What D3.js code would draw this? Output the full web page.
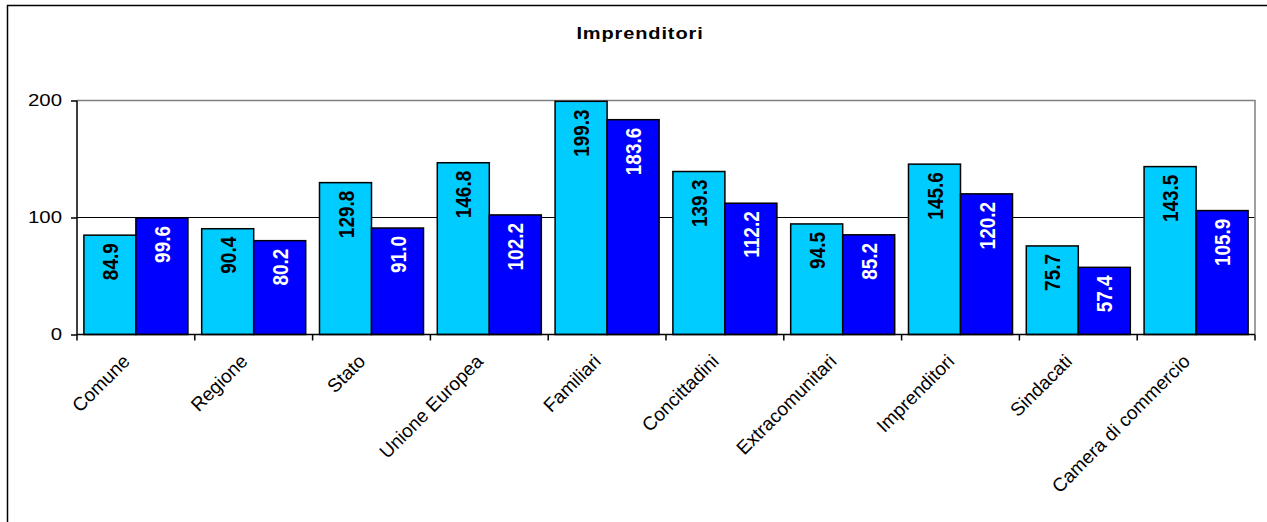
<!DOCTYPE html>
<html>
<head>
<meta charset="utf-8">
<script src="https://cdn.jsdelivr.net/npm/d3@7"></script>
<style>
  body { margin: 0; background: #fff; }
  svg { display: block; font-family: "Liberation Sans", Arial, sans-serif; }
</style>
</head>
<body>
<svg id="chart_svg" width="1267" height="522"></svg>
<script>
const categories = ["Comune", "Regione", "Stato", "Unione Europea", "Familiari",
  "Concittadini", "Extracomunitari", "Imprenditori", "Sindacati", "Camera di commercio"];
const seriesA = [84.9, 90.4, 129.8, 146.8, 199.3, 139.3, 94.5, 145.6, 75.7, 143.5];
const seriesB = [99.6, 80.2, 91.0, 102.2, 183.6, 112.2, 85.2, 120.2, 57.4, 105.9];
const yTicks = [0, 100, 200];
const title = "Imprenditori";

const svg = d3.select("#chart_svg");

const plot = { left: 77, right: 1255, top: 100.5, bottom: 334.5 };

// outer frame (runs off the right and bottom edges)
svg.append("rect")
  .attr("x", 7.5).attr("y", 5.5)
  .attr("width", 1300).attr("height", 600)
  .attr("fill", "none").attr("stroke", "#000").attr("stroke-width", 1.5);

// title, a bit wide like the source
svg.append("text")
  .attr("transform", "translate(640,39) scale(1.25,1)")
  .attr("text-anchor", "middle")
  .attr("font-size", 16).attr("font-weight", "bold")
  .attr("letter-spacing", 0.7)
  .text(title);

const xScale = d3.scaleBand()
  .domain(categories)
  .range([plot.left, plot.right])
  .paddingInner(0.117)
  .paddingOuter(0.0585);

const xInner = d3.scaleBand()
  .domain([0, 1])
  .range([0, xScale.bandwidth()]);

const yScale = d3.scaleLinear()
  .domain([0, 200])
  .range([plot.bottom, plot.top]);

// gridlines
svg.append("g")
  .selectAll("line")
  .data(yTicks.filter(d => d > 0 && d < 200))
  .enter().append("line")
  .attr("x1", plot.left).attr("x2", plot.right)
  .attr("y1", d => yScale(d)).attr("y2", d => yScale(d))
  .attr("stroke", "#000").attr("stroke-width", 1);

// plot area border (gray)
svg.append("path")
  .attr("d", `M${plot.left},${plot.top}H${plot.right}V${plot.bottom}`)
  .attr("fill", "none").attr("stroke", "#808080").attr("stroke-width", 1.5);

const data = categories.map((c, i) => ({ cat: c, values: [seriesA[i], seriesB[i]] }));
const colors = ["#00CCFF", "#0000FF"];
const textColors = ["#000", "#fff"];

const groups = svg.append("g")
  .selectAll("g")
  .data(data)
  .enter().append("g")
  .attr("transform", d => `translate(${xScale(d.cat)},0)`);

groups.selectAll("rect")
  .data(d => d.values.map((v, j) => ({ v, j })))
  .enter().append("rect")
  .attr("x", d => xInner(d.j))
  .attr("y", d => yScale(d.v))
  .attr("width", xInner.bandwidth())
  .attr("height", d => yScale(0) - yScale(d.v))
  .attr("fill", d => colors[d.j])
  .attr("stroke", "#000").attr("stroke-width", 1.5);

groups.selectAll("text")
  .data(d => d.values.map((v, j) => ({ v, j })))
  .enter().append("text")
  .attr("transform", d => `translate(${xInner(d.j) + xInner.bandwidth() / 2},${yScale(d.v) + 8}) scale(1.18,1) rotate(-90)`)
  .attr("text-anchor", "end")
  .attr("dy", "0.36em")
  .attr("font-size", 19).attr("font-weight", "bold")
  .attr("fill", d => textColors[d.j])
  .text(d => d.v.toFixed(1));

// y axis
const yAxis = d3.axisLeft(yScale).tickValues(yTicks).tickSize(6);
const gy = svg.append("g")
  .attr("transform", `translate(${plot.left},0)`)
  .call(yAxis);
gy.select(".domain").attr("stroke", "#000").attr("stroke-width", 1.5).attr("d", `M0,${plot.top}V${plot.bottom}`);
gy.selectAll(".tick line").attr("stroke", "#000").attr("stroke-width", 1.5);
gy.selectAll(".tick text")
  .attr("x", 0)
  .attr("transform", "translate(-15,0) scale(1.2,1)")
  .attr("font-size", 17)
  .attr("font-family", "Liberation Sans, Arial, sans-serif")
  .attr("fill", "#000");

// x axis line and category boundary ticks
const step = xScale.step();
const boundaries = d3.range(categories.length + 1).map(i => plot.left + i * step);
svg.append("line")
  .attr("x1", plot.left).attr("x2", plot.right)
  .attr("y1", plot.bottom).attr("y2", plot.bottom)
  .attr("stroke", "#000").attr("stroke-width", 1.5);
svg.append("g").selectAll("line")
  .data(boundaries)
  .enter().append("line")
  .attr("x1", d => d).attr("x2", d => d)
  .attr("y1", plot.bottom).attr("y2", plot.bottom + 6)
  .attr("stroke", "#000").attr("stroke-width", 1.5);

// category labels
svg.append("g").selectAll("text")
  .data(categories)
  .enter().append("text")
  .attr("transform", d => `translate(${xScale(d) + xScale.bandwidth() / 2 - 5},${plot.bottom + 28}) rotate(-45)`)
  .attr("text-anchor", "end")
  .attr("font-size", 19)
  .text(d => d);
</script>
</body>
</html>
